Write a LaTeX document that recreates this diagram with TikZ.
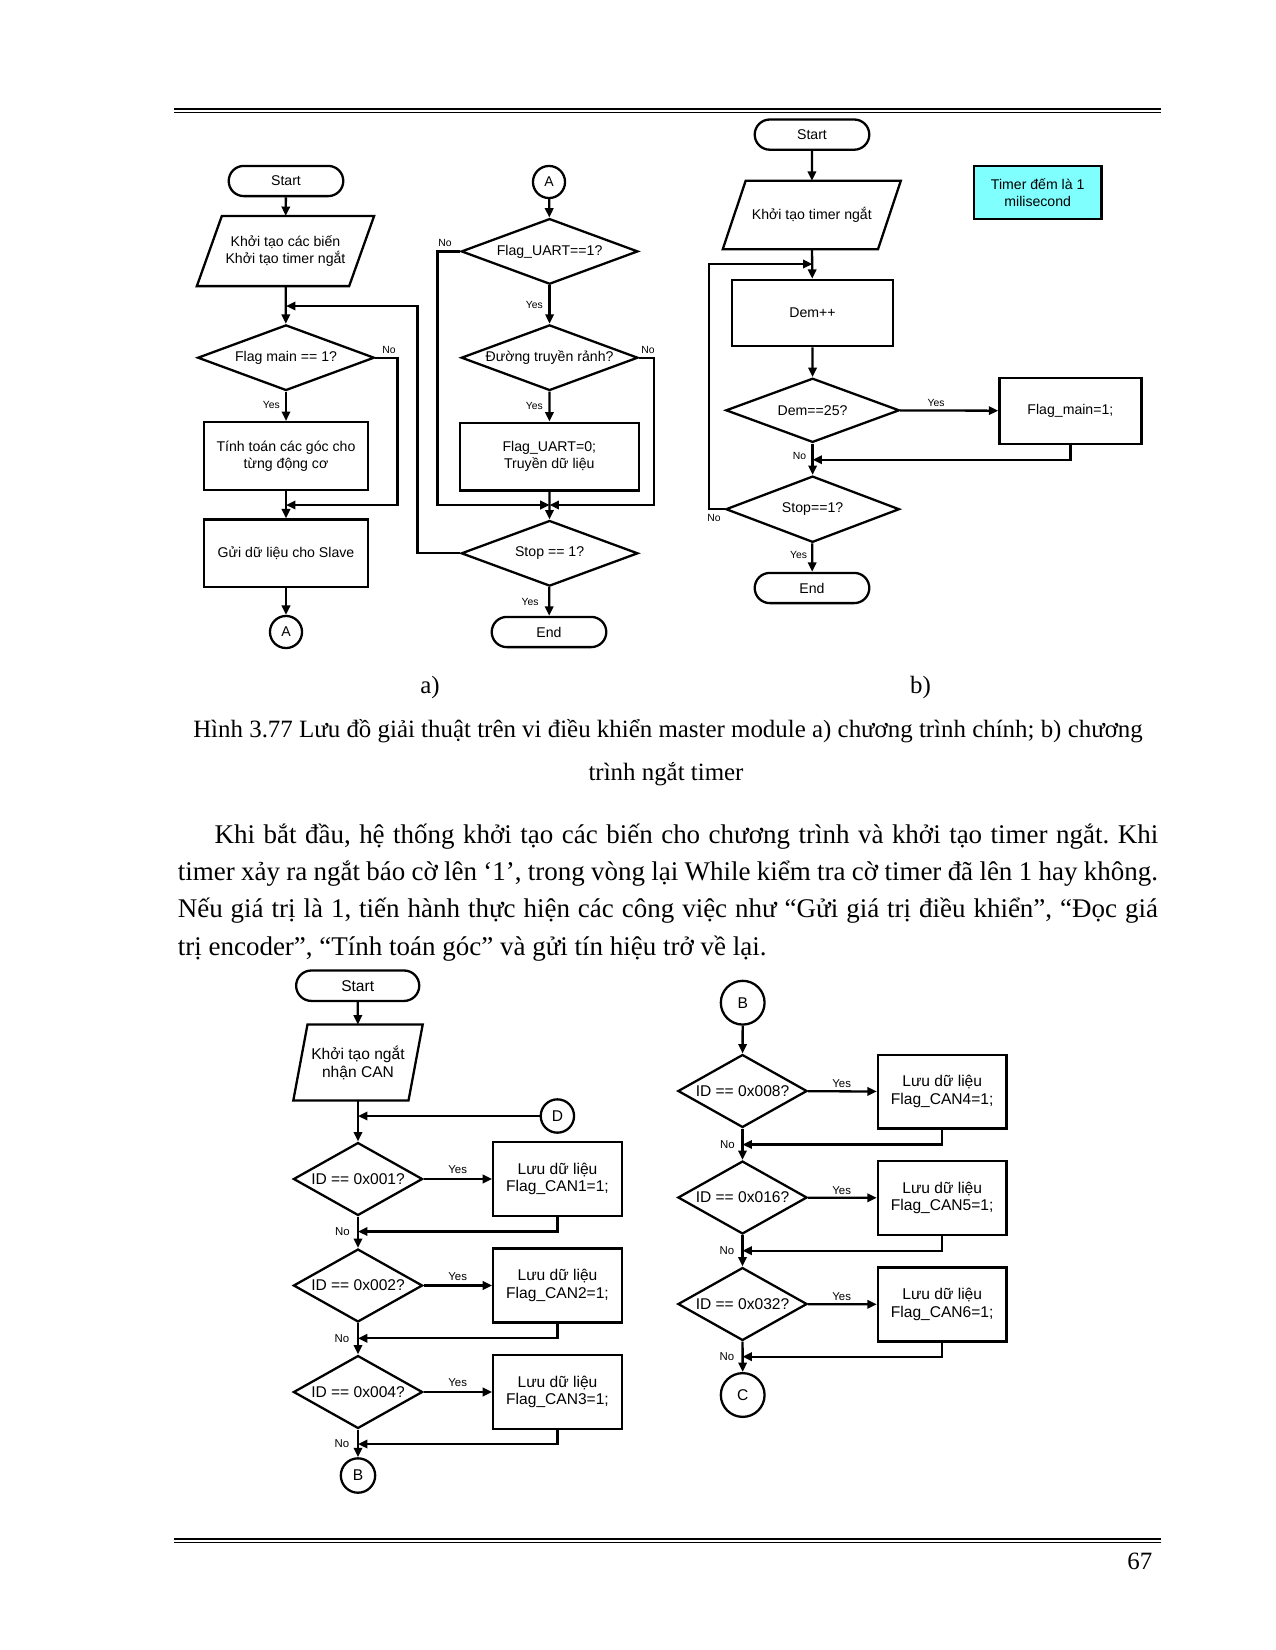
\documentclass[tikz,border=0pt]{standalone}
\usepackage{fontspec}
\setmainfont{Liberation Serif}
\newfontfamily\flowfont{Liberation Sans}
\usetikzlibrary{arrows.meta, positioning, shapes.geometric, shapes.misc}
\frenchspacing

\newcommand{\flowtxt}{\flowfont\fontsize{6.8}{8.2}\selectfont}
\newcommand{\flowbig}{\flowfont\fontsize{7.5}{8.6}\selectfont}
\newcommand{\flowlbl}{\flowfont\fontsize{5}{6}\selectfont}
\definecolor{notecyan}{RGB}{128, 255, 255}

\begin{document}
\begin{tikzpicture}[
      x=0.48bp, y=-0.48bp,
      line width=1.1bp,
      term/.style={rounded rectangle, draw, minimum width=57bp,
                   minimum height=14.5bp, inner sep=1bp, font=\flowtxt},
      iobox/.style={rectangle, minimum width=72bp, minimum height=32.6bp,
                    inner sep=0.5bp, align=center, font=\flowtxt},
      ioline/.style={line join=miter},
      procbox/.style={rectangle, draw, minimum width=78.7bp,
                      minimum height=32.5bp, align=center, font=\flowtxt},
      decide/.style={diamond, draw, aspect=2.7, inner sep=0.5bp,
                     minimum width=84.8bp, minimum height=31.5bp, font=\flowtxt},
      conn/.style={circle, draw, minimum size=15.4bp, inner sep=0pt, font=\flowtxt},
      lbl/.style={inner sep=0pt, font=\flowlbl},
      arr/.style={-{Triangle[length=4.5bp, width=4bp]}},
      para/.style={inner sep=0pt, font=\fontsize{12}{14}\selectfont},
      body/.style={inner sep=0pt, font=\fontsize{13}{15}\selectfont},
      rule/.style={line width=1.05bp}
    ]
    \useasboundingbox (0,0) rectangle (1275,1650);

    % page rules
    \draw[rule] (174,109.3) -- (1161,109.3);
    \draw[line width=0.8bp] (174,112.6) -- (1161,112.6);
    \draw[rule] (174,1538.8) -- (1161,1538.8);
    \draw[line width=0.8bp] (174,1542.6) -- (1161,1542.6);
    \node[para, anchor=base east] (pgno) at (1153.5,1569) {67};

    % a) main program, left column
    \node[term]   (start_a) at (286,181)   {Start};
    \node[iobox]  (init_a)  at (285.5,251) {Khởi tạo các biến\\Khởi tạo timer ngắt};
    \draw[ioline] ([xshift=6bp]init_a.north west) -- ([xshift=6bp]init_a.north east)
      -- ([xshift=-6bp]init_a.south east) -- ([xshift=-6bp]init_a.south west) -- cycle;
    \coordinate   (m1)      at (286,306);
    \node[decide] (flag_a)  at (286,357.7) {Flag main == 1?};
    \node[procbox] (calc_a) at (286,456)   {Tính toán các góc cho\\từng động cơ};
    \coordinate   (m2)      at (286,505);
    \node[procbox] (send_a) at (286,553.3) {Gửi dữ liệu cho Slave};
    \node[conn]   (ca_a)    at (286,632)   {A};
    \coordinate   (nr_a)    at (397.6,505);

    \draw[arr] (start_a) -- (init_a);
    \draw[arr] (init_a)  -- (flag_a);
    \draw[arr] (flag_a)  -- (calc_a);
    \draw[arr] (calc_a)  -- (send_a);
    \draw[arr] (send_a)  -- (ca_a);
    \draw[arr] (flag_a.east) -| (nr_a) -- (m2);
    \node[lbl] (yes_a1) at (271.4,405) {Yes};
    \node[lbl] (no_a1)  at (389,350)   {No};

    % a) main program, right column
    \node[conn]    (cb_a)   at (549,182)   {A};
    \node[decide]  (uart_a) at (549.6,251.4) {Flag\_UART==1?};
    \node[decide]  (line_a) at (549.6,357.7) {Đường truyền rảnh?};
    \node[procbox, minimum width=85.8bp] (tx_a) at (549.3,456.5) {Flag\_UART=0;\\Truyền dữ liệu};
    \coordinate    (m3)     at (549.6,505);
    \node[decide]  (stop_a) at (549.6,553.3) {Stop == 1?};
    \node[term]    (end_a)  at (549,632)   {End};
    \coordinate    (nl_a)   at (437.6,505);
    \coordinate    (nn_a)   at (654.3,505);
    \coordinate    (lp_a)   at (417.6,306);

    \draw[arr] (cb_a)   -- (uart_a);
    \draw[arr] (uart_a) -- (line_a);
    \draw[arr] (line_a) -- (tx_a);
    \draw[arr] (tx_a)   -- (stop_a);
    \draw[arr] (stop_a) -- (end_a);
    \draw[arr] (uart_a.west) -| (nl_a) -- (m3);
    \draw[arr] (line_a.east) -| (nn_a) -- (m3);
    \draw[arr] (stop_a.west) -| (lp_a) -- (m1);
    \node[lbl] (no_a2)  at (445,243)   {No};
    \node[lbl] (yes_a2) at (534.4,305) {Yes};
    \node[lbl] (no_a3)  at (648,350)   {No};
    \node[lbl] (yes_a3) at (534.4,406) {Yes};
    \node[lbl] (yes_a4) at (530,601.7) {Yes};

    % b) timer interrupt
    \node[term]  (start_b) at (812,134.6) {Start};
    \node[iobox, minimum width=73.4bp, minimum height=31.8bp] (init_b) at (811.8,215) {Khởi tạo timer ngắt};
    \draw[ioline] ([xshift=5.5bp]init_b.north west) -- ([xshift=5.5bp]init_b.north east)
      -- ([xshift=-5.5bp]init_b.south east) -- ([xshift=-5.5bp]init_b.south west) -- cycle;
    \coordinate  (m4)      at (812.5,264);
    \node[procbox, minimum width=77.3bp, minimum height=31.8bp] (dem_b) at (812.5,313) {Dem++};
    \node[decide, minimum width=83.3bp, minimum height=30.8bp] (cnt_b) at (812.6,410.3) {Dem==25?};
    \node[procbox, minimum width=68.2bp, minimum height=31.8bp] (set_b) at (1070.4,410.8) {Flag\_main=1;};
    \coordinate  (m5)      at (812.6,459.7);
    \node[decide, minimum width=83.3bp, minimum height=31.8bp] (stop_b) at (812.6,509.2) {Stop==1?};
    \node[term]  (end_b)   at (812,588)   {End};
    \node[procbox, fill=notecyan, minimum width=61.1bp, minimum height=25.2bp,
          font=\flowfont\fontsize{6.8}{8.1}\selectfont] (note_b) at (1037.7,192.5) {Timer đếm là 1\\milisecond};
    \coordinate  (lp_b)    at (709,264);

    \draw[arr] (start_b) -- (init_b);
    \draw[arr] (init_b)  -- (dem_b);
    \draw[arr] (dem_b)   -- (cnt_b);
    \draw[arr] (cnt_b)   -- (set_b);
    \draw[arr] (set_b.south) |- (m5);
    \draw[arr] (cnt_b)   -- (stop_b);
    \draw[arr] (stop_b)  -- (end_b);
    \draw[arr] (stop_b.west) -| (lp_b) -- (m4);
    \node[lbl] (yes_b1) at (936,403)     {Yes};
    \node[lbl] (no_b1)  at (799.5,455.5) {No};
    \node[lbl] (no_b2)  at (714,517.6)   {No};
    \node[lbl] (yes_b2) at (798.5,555.4) {Yes};

    % figure caption
    \node[para, anchor=base] (sub_a) at (430,693) {a)};
    \node[para, anchor=base] (sub_b) at (920.5,693) {b)};
    \node[para, anchor=base] (cap1) at (668,737)
      {Hình 3.77 Lưu đồ giải thuật trên vi điều khiển master module a) chương trình chính; b) chương};
    \node[para, anchor=base] (cap2) at (666,780) {trình ngắt timer};

    % body text
    \node[body, anchor=base west] (txt1) at (213.5,843)
      {\makebox[452.9bp][s]{Khi bắt đầu, hệ thống khởi tạo các biến cho chương trình và khởi tạo timer ngắt. Khi}};
    \node[body, anchor=base west] (txt2) at (176.7,880)
      {\makebox[470.4bp][s]{timer xảy ra ngắt báo cờ lên ‘1’, trong vòng lại While kiểm tra cờ timer đã lên 1 hay không.}};
    \node[body, anchor=base west] (txt3) at (176.7,917)
      {\makebox[470.4bp][s]{Nếu giá trị là 1, tiến hành thực hiện các công việc như “Gửi giá trị điều khiển”, “Đọc giá}};
    \node[body, anchor=base west] (txt4) at (176.7,955)
      {trị encoder”, “Tính toán góc” và gửi tín hiệu trở về lại.};

    % CAN receive, left column
    \begin{scope}[
        term/.append style={minimum width=61.1bp, minimum height=14.6bp, font=\flowbig},
        decide/.append style={aspect=1.77, inner sep=0pt, minimum width=62bp,
                              minimum height=35bp, font=\flowbig},
        procbox/.append style={minimum width=61.7bp, minimum height=35.4bp, font=\flowbig},
        conn/.append style={font=\flowbig},
        lbl/.append style={font=\flowfont\fontsize{5.5}{6.5}\selectfont}
      ]
    \node[term]   (start_c) at (357.7,985.7) {Start};
    \node[iobox, minimum width=54.2bp, minimum height=35.3bp, font=\flowbig] (init_c) at (358,1062.5) {Khởi tạo ngắt\\nhận CAN};
    \draw[ioline] ([xshift=3.4bp]init_c.north west) -- ([xshift=3.4bp]init_c.north east)
      -- ([xshift=-3.4bp]init_c.south east) -- ([xshift=-3.4bp]init_c.south west) -- cycle;
    \node[conn, minimum size=16bp] (cd_c) at (557.4,1116) {D};
    \coordinate   (m6)      at (358,1116);
    \node[decide]  (id1_c)  at (358,1179)    {ID == 0x001?};
    \node[procbox] (sv1_c)  at (557.5,1179)  {Lưu dữ liệu\\Flag\_CAN1=1;};
    \coordinate    (r1_c)   at (358,1231.5);
    \node[decide]  (id2_c)  at (358,1285.5)  {ID == 0x002?};
    \node[procbox] (sv2_c)  at (557.5,1285.5) {Lưu dữ liệu\\Flag\_CAN2=1;};
    \coordinate    (r2_c)   at (358,1338.3);
    \node[decide]  (id3_c)  at (358,1392)    {ID == 0x004?};
    \node[procbox] (sv3_c)  at (557.5,1392)  {Lưu dữ liệu\\Flag\_CAN3=1;};
    \coordinate    (r3_c)   at (358,1444);
    \node[conn, minimum size=16.5bp] (cb_c) at (358,1475.5) {B};

    \draw[arr] (start_c) -- (init_c);
    \draw[arr] (init_c)  -- (id1_c);
    \draw[arr] (cd_c)    -- (m6);
    \draw[arr] (id1_c)   -- (sv1_c);
    \draw[arr] (sv1_c.south) |- (r1_c);
    \draw[arr] (id1_c)   -- (id2_c);
    \draw[arr] (id2_c)   -- (sv2_c);
    \draw[arr] (sv2_c.south) |- (r2_c);
    \draw[arr] (id2_c)   -- (id3_c);
    \draw[arr] (id3_c)   -- (sv3_c);
    \draw[arr] (sv3_c.south) |- (r3_c);
    \draw[arr] (id3_c)   -- (cb_c);
    \node[lbl] (yes_c1) at (457.7,1170)  {Yes};
    \node[lbl] (yes_c2) at (457.7,1276.5) {Yes};
    \node[lbl] (yes_c3) at (457.7,1383)  {Yes};
    \node[lbl] (no_c1)  at (342.5,1231.5) {No};
    \node[lbl] (no_c2)  at (342,1338.3)  {No};
    \node[lbl] (no_c3)  at (342,1444)    {No};

    % CAN receive, right column
    \node[conn, minimum size=21bp] (cb_d) at (742.7,1002.7) {B};
    \node[decide]  (id4_d)  at (742.5,1091)   {ID == 0x008?};
    \node[procbox] (sv4_d)  at (942.2,1091.7) {Lưu dữ liệu\\Flag\_CAN4=1;};
    \coordinate    (r4_d)   at (742.5,1144.5);
    \node[decide]  (id5_d)  at (742.5,1197.5) {ID == 0x016?};
    \node[procbox] (sv5_d)  at (942.2,1198)   {Lưu dữ liệu\\Flag\_CAN5=1;};
    \coordinate    (r5_d)   at (742.5,1250.7);
    \node[decide]  (id6_d)  at (742.5,1304)   {ID == 0x032?};
    \node[procbox] (sv6_d)  at (942.2,1304.5) {Lưu dữ liệu\\Flag\_CAN6=1;};
    \coordinate    (r6_d)   at (742.5,1356.7);
    \node[conn, minimum size=21bp] (cc_d) at (742.7,1395) {C};

    \draw[arr] (cb_d)  -- (id4_d);
    \draw[arr] (id4_d) -- (sv4_d);
    \draw[arr] (sv4_d.south) |- (r4_d);
    \draw[arr] (id4_d) -- (id5_d);
    \draw[arr] (id5_d) -- (sv5_d);
    \draw[arr] (sv5_d.south) |- (r5_d);
    \draw[arr] (id5_d) -- (id6_d);
    \draw[arr] (id6_d) -- (sv6_d);
    \draw[arr] (sv6_d.south) |- (r6_d);
    \draw[arr] (id6_d) -- (cc_d);
    \node[lbl] (yes_d1) at (841.7,1084)   {Yes};
    \node[lbl] (yes_d2) at (841.7,1190.5) {Yes};
    \node[lbl] (yes_d3) at (841.7,1297)   {Yes};
    \node[lbl] (no_d1)  at (727.5,1145)   {No};
    \node[lbl] (no_d2)  at (727,1251)     {No};
    \node[lbl] (no_d3)  at (727,1357)     {No};
    \end{scope}
  \end{tikzpicture}
\end{document}
